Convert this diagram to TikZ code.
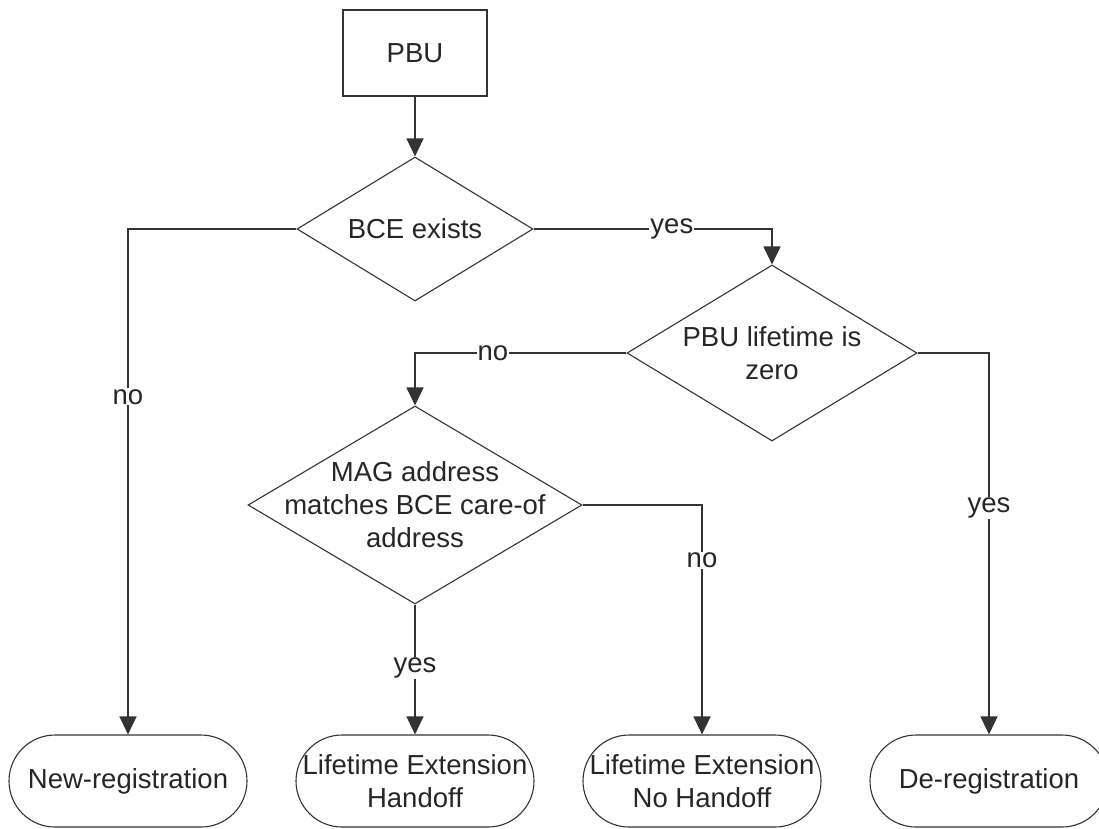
\documentclass[tikz,border=0pt]{standalone}
\usepackage{fontspec}
\setmainfont{Liberation Sans}
\usetikzlibrary{shapes.geometric,arrows.meta}
\begin{document}
\begin{tikzpicture}[x=1pt,y=-1pt,
  every node/.style={font=\fontsize{27.5}{33}\selectfont, text=black!85},
  line/.style={draw=black!80, line width=1.1pt},
  arr/.style={line, -{Triangle[width=17pt,length=18pt]}},
  box/.style={draw=black!80, line width=1.1pt, rectangle, minimum width=144pt, minimum height=86pt},
  dia/.style={draw=black!80, line width=1.1pt, diamond, inner sep=0pt},
  term/.style={draw=black!80, line width=1.1pt, rectangle, rounded corners=46pt, minimum width=238pt, minimum height=92pt, align=center, inner sep=0pt},
  lab/.style={fill=white, inner sep=1pt},
  txt/.style={align=center, inner sep=0pt}
]
\useasboundingbox (0,0) rectangle (1099,828);

\node[box] (pbu) at (415,53) {PBU};

\node[dia, minimum width=236pt, minimum height=144pt] (bce) at (415,229) {};
\node[txt] (bcet) at (bce) {BCE exists};

\node[dia, minimum width=290pt, minimum height=176pt] (lt) at (772,353) {};
\node[txt] (ltt) at (lt) {PBU lifetime is\\zero};

\node[dia, minimum width=334pt, minimum height=198pt] (mag) at (415,505) {};
\node[txt] (magt) at (mag) {MAG address\\matches BCE care-of\\address};

\node[term] (newreg) at (128,781) {New-registration};
\node[term] (leh) at (415,781) {Lifetime Extension\\Handoff};
\node[term] (lenh) at (702,781) {Lifetime Extension\\No Handoff};
\node[term] (dereg) at (989,781) {De-registration};

\draw[arr] (pbu.south) -- (bce.north);
\draw[arr] (bce.east) -| node[lab, pos=0.29] (ly1) {yes} (lt.north);
\draw[arr] (bce.west) -| node[lab, pos=0.666] (ln1) {no} (newreg.north);
\draw[arr] (lt.west) -| node[lab, pos=0.316] (ln2) {no} (mag.north);
\draw[arr] (lt.east) -| node[lab, pos=0.703] (ly2) {yes} (dereg.north);
\draw[arr] (mag.east) -| node[lab, pos=0.62] (ln3) {no} (lenh.north);
\draw[arr] (mag.south) -- node[lab, pos=0.49] (ly3) {yes} (leh.north);
\end{tikzpicture}
\end{document}
